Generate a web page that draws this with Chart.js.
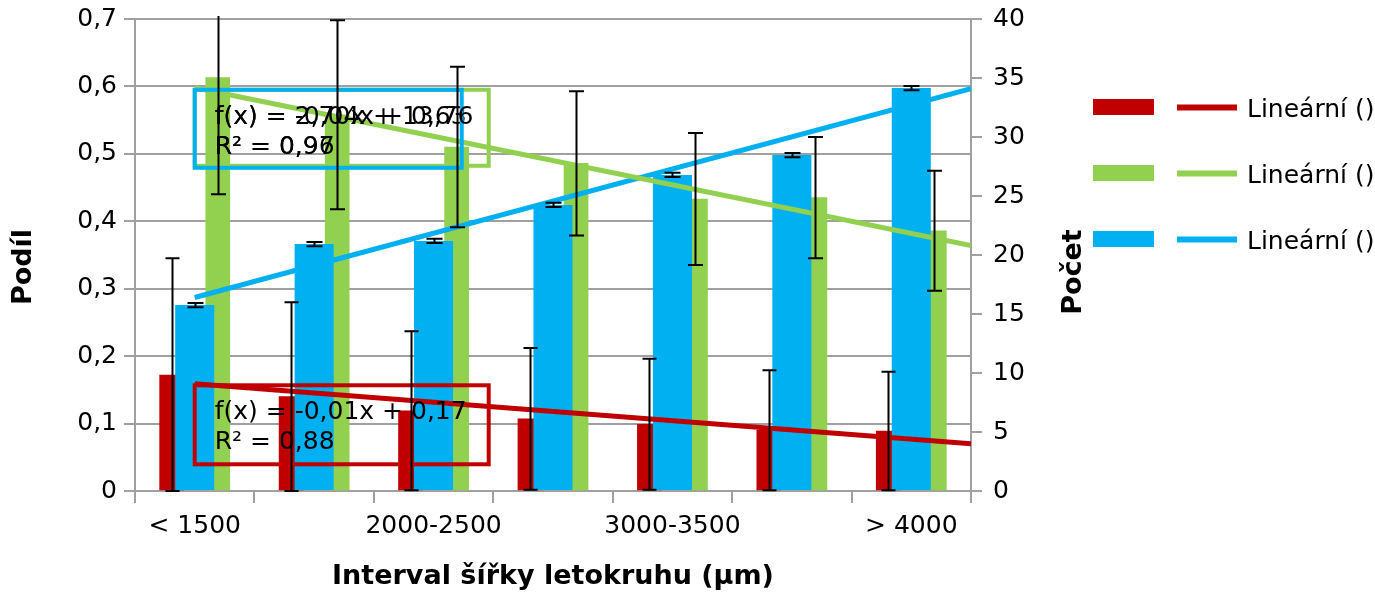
<!DOCTYPE html>
<html>
<head>
<meta charset="utf-8">
<script src="https://cdn.jsdelivr.net/npm/chart.js@4.4.1/dist/chart.umd.min.js"></script>
<style>
  html, body { margin: 0; padding: 0; background: #fff; }
</style>
</head>
<body>
<canvas id="graf" width="1375" height="593"></canvas>
<script>
// kategorie (interval šířky letokruhu)
const categories = ['< 1500', '1500-2000', '2000-2500', '2500-3000', '3000-3500', '3500-4000', '> 4000'];

// podíl - levá osa
const podilRed = [0.172, 0.140, 0.119, 0.107, 0.099, 0.090, 0.089];
const podilRedErr = [0.173, 0.140, 0.118, 0.105, 0.097, 0.089, 0.088];
const podilGreen = [0.613, 0.558, 0.510, 0.486, 0.433, 0.435, 0.386];
const podilGreenErr = [0.173, 0.140, 0.119, 0.107, 0.098, 0.090, 0.089];

// počet - pravá osa
const pocetBlue = [15.76, 20.93, 21.19, 24.24, 26.78, 28.47, 34.15];
const pocetBlueErr = [0.18, 0.18, 0.18, 0.18, 0.18, 0.18, 0.18];

// lineární trendy (začátek a konec, x = index kategorie)
const trendX = [0, 6.5];
const trendRed = [0.159, 0.070];
const trendGreen = [0.598, 0.364];
const trendBlue = [16.4, 34.1];

// rovnice trendů
const eqRed = ['f(x) = -0,01x + 0,17', 'R² = 0,88'];
const eqGreen = ['f(x) = -0,04x + 0,63', 'R² = 0,97'];
const eqBlue = ['f(x) = 2,70x + 13,76', 'R² = 0,96'];

const leftTickLabels = ['0', '0,1', '0,2', '0,3', '0,4', '0,5', '0,6', '0,7'];
const legendLabels = ['Lineární ()', 'Lineární ()', 'Lineární ()'];
const titleX = 'Interval šířky letokruhu (µm)';
const titleLeft = 'Podíl';
const titleRight = 'Počet';

const RED = '#C00000', GREEN = '#92D050', BLUE = '#00B0F0', GRID = '#a0a0a0';
const FONT = 'DejaVu Sans';
const SHIFT = 0.193;   // posun červeného/zeleného sloupce od středu kategorie

Chart.defaults.font.family = FONT;
Chart.defaults.font.size = 25;
Chart.defaults.color = '#000';

function trendPoints(vals){
	return trendX.map((x, i) => ({ x: x, y: vals[i] }));
}

function barPoints(vals, shift){
	return vals.map((v, i) => ({ x: i + shift, y: v }));
}

/** chybové úsečky */
function drawErrors(chart, dsIndex, vals, errs, scale, cap){
	const ctx = chart.ctx;
	const meta = chart.getDatasetMeta(dsIndex);
	ctx.strokeStyle = '#000';
	ctx.lineWidth = 2;
	meta.data.forEach((bar, i) => {
		const x = Math.round(bar.x) + 0.5;
		const top = scale.getPixelForValue(vals[i] + errs[i]);
		const bot = scale.getPixelForValue(Math.max(0, vals[i] - errs[i]));
		ctx.beginPath();
		ctx.moveTo(x, top); ctx.lineTo(x, bot);
		ctx.moveTo(x - cap / 2, top); ctx.lineTo(x + cap / 2, top);
		ctx.moveTo(x - cap / 2, bot); ctx.lineTo(x + cap / 2, bot);
		ctx.stroke();
	});
}

function drawEqBox(ctx, x, y, w, h, color, lines){
	ctx.strokeStyle = color;
	ctx.lineWidth = 4;
	ctx.strokeRect(x, y, w, h);
	ctx.fillStyle = '#000';
	ctx.font = '25px "' + FONT + '"';
	ctx.textAlign = 'left';
	ctx.textBaseline = 'alphabetic';
	ctx.fillText(lines[0], x + 20, y + 34);
	ctx.fillText(lines[1], x + 20, y + 64);
}

function drawVertTitle(ctx, text, x, y){
	ctx.save();
	ctx.translate(x, y);
	ctx.rotate(-Math.PI / 2);
	ctx.font = 'bold 27px "' + FONT + '"';
	ctx.fillStyle = '#000';
	ctx.textAlign = 'center';
	ctx.textBaseline = 'middle';
	ctx.fillText(text, 0, 0);
	ctx.restore();
}

const extras = {
	id: 'extras',
	afterDatasetsDraw(chart){
		const ctx = chart.ctx;
		const a = chart.chartArea;
		const sx = chart.scales.x2, sy = chart.scales.y, sy1 = chart.scales.y1;
		const x0 = sx.getPixelForValue(trendX[0]);

		ctx.save();
		drawEqBox(ctx, x0, sy.getPixelForValue(trendRed[0]) + 1.5, 294, 79, RED, eqRed);
		drawEqBox(ctx, x0, sy.getPixelForValue(trendGreen[0]) + 2, 294, 76, GREEN, eqGreen);
		drawEqBox(ctx, x0, sy.getPixelForValue(trendGreen[0]) + 2, 267, 78, BLUE, eqBlue);
		ctx.restore();

		ctx.save();
		ctx.beginPath();
		ctx.rect(a.left, a.top - 3, a.right - a.left, a.bottom - a.top + 6);
		ctx.clip();
		drawErrors(chart, 1, podilRed, podilRedErr, sy, 14);
		drawErrors(chart, 2, podilGreen, podilGreenErr, sy, 15);
		drawErrors(chart, 0, pocetBlue, pocetBlueErr, sy1, 16);
		ctx.restore();
	},
	afterDraw(chart){
		const ctx = chart.ctx;
		const colors = [RED, GREEN, BLUE];
		const rowTop = [99, 165, 231];
		ctx.save();
		ctx.font = '25px "' + FONT + '"';
		ctx.textAlign = 'left';
		ctx.textBaseline = 'alphabetic';
		colors.forEach((c, i) => {
			ctx.fillStyle = c;
			ctx.fillRect(1093, rowTop[i], 61, 16);
			ctx.strokeStyle = c;
			ctx.lineWidth = 6;
			ctx.beginPath();
			ctx.moveTo(1177, rowTop[i] + 8.5);
			ctx.lineTo(1237, rowTop[i] + 8.5);
			ctx.stroke();
			ctx.fillStyle = '#000';
			ctx.fillText(legendLabels[i], 1247, rowTop[i] + 18);
		});
		ctx.restore();
		drawVertTitle(ctx, titleLeft, 24, 267);
		drawVertTitle(ctx, titleRight, 1074, 272);
	}
};

new Chart(document.getElementById('graf'), {
	type: 'bar',
	data: {
		labels: categories,
		datasets: [
			{ label: 'Počet', data: pocetBlue, backgroundColor: BLUE, yAxisID: 'y1', xAxisID: 'xb',
			  grouped: false, categoryPercentage: 0.327, barPercentage: 1 },
			{ label: 'Podíl', data: barPoints(podilRed, -SHIFT), backgroundColor: RED, yAxisID: 'y', xAxisID: 'x2',
			  grouped: false, barThickness: 24, categoryPercentage: 1, barPercentage: 1 },
			{ label: 'Podíl 2', data: barPoints(podilGreen, SHIFT), backgroundColor: GREEN, yAxisID: 'y', xAxisID: 'x2',
			  grouped: false, barThickness: 24, categoryPercentage: 1, barPercentage: 1 },
			{ type: 'line', label: 'Lineární ()', data: trendPoints(trendRed), borderColor: RED, borderWidth: 5,
			  pointRadius: 0, xAxisID: 'x2', yAxisID: 'y', order: -1 },
			{ type: 'line', label: 'Lineární ()', data: trendPoints(trendGreen), borderColor: GREEN, borderWidth: 5,
			  pointRadius: 0, xAxisID: 'x2', yAxisID: 'y', order: -1 },
			{ type: 'line', label: 'Lineární ()', data: trendPoints(trendBlue), borderColor: BLUE, borderWidth: 5,
			  pointRadius: 0, xAxisID: 'x2', yAxisID: 'y1', order: -1 }
		]
	},
	options: {
		responsive: false,
		animation: false,
		layout: { padding: { left: 0, right: 287, top: 19, bottom: 0 } },
		plugins: { legend: { display: false }, tooltip: { enabled: false } },
		scales: {
			x: {
				type: 'category',
				offset: true,
				grid: { drawOnChartArea: false, tickLength: 12, color: GRID, lineWidth: 2, offset: true },
				border: { display: true, color: GRID, width: 2 },
				ticks: {
					autoSkip: false, maxRotation: 0, padding: 8,
					callback: (v, i) => (i % 2 === 0 ? categories[i] : '')
				},
				title: { display: true, text: titleX, font: { weight: 'bold', size: 27 },
					padding: { top: 0, bottom: 0 } },
				afterFit: s => { s.height = 102; }
			},
			xb: { type: 'category', display: false, offset: true },
			x2: { type: 'linear', display: false, offset: false, min: -0.5, max: 6.5 },
			y: {
				position: 'left', min: 0, max: 0.7,
				ticks: { stepSize: 0.1, padding: 7, callback: (v, i) => leftTickLabels[i] },
				grid: { color: GRID, lineWidth: 2, tickLength: 11 },
				border: { display: true, color: GRID, width: 2 },
				afterFit: s => { s.width = 135; s.paddingTop = 0; s.paddingBottom = 0; }
			},
			y1: {
				position: 'right', min: 0, max: 40,
				ticks: { stepSize: 5, padding: 11 },
				grid: { drawOnChartArea: false, color: GRID, lineWidth: 2, tickLength: 11 },
				border: { display: true, color: GRID, width: 2 },
				afterFit: s => { s.width = 117; s.paddingTop = 0; s.paddingBottom = 0; }
			}
		}
	},
	plugins: [extras]
});
</script>
</body>
</html>
